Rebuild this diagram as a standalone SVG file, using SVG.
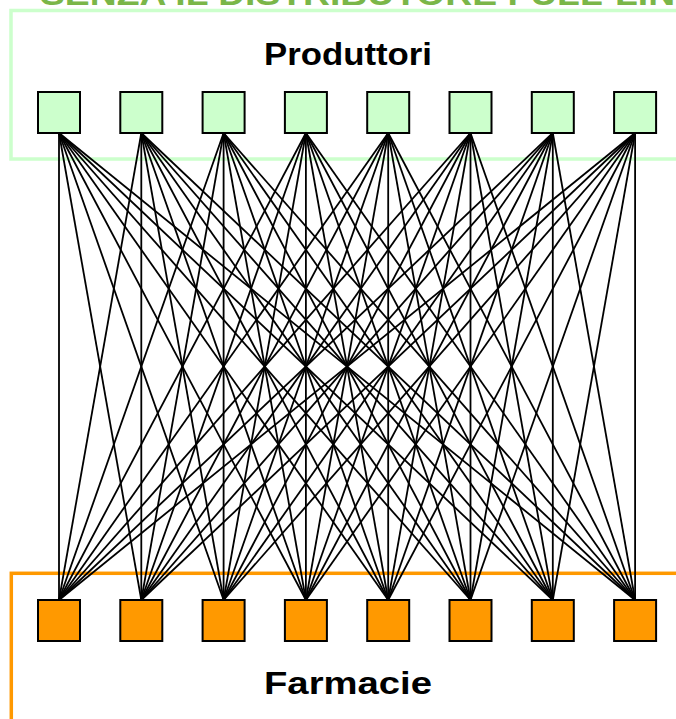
<svg xmlns="http://www.w3.org/2000/svg" width="676" height="719" viewBox="0 0 676 719">
<style>
.frame{fill:none;stroke-width:3.5}
.lbl{font-family:"Liberation Sans",Arial,sans-serif;font-weight:bold;font-size:32px;fill:#000;text-anchor:middle}
.title{font-family:"Liberation Sans",Arial,sans-serif;font-weight:bold;font-size:31px;fill:#7ab648}
.prod{fill:#ccffcc;stroke:#000;stroke-width:2}
.farm{fill:#ff9900;stroke:#000;stroke-width:2}
#links line{stroke:#000;stroke-width:1.8}
</style>
<text class="title" x="40" y="5" textLength="660" lengthAdjust="spacingAndGlyphs">SENZA IL DISTRIBUTORE FULL-LINE</text>
<rect class="frame" x="11" y="10.5" width="700" height="148.5" stroke="#ccffcc"/>
<rect class="frame" x="11.3" y="573.3" width="700" height="200" stroke="#ff9900"/>
<text class="lbl" x="348" y="65" textLength="168" lengthAdjust="spacingAndGlyphs">Produttori</text>
<text class="lbl" x="348" y="694" textLength="168" lengthAdjust="spacingAndGlyphs">Farmacie</text>
<g id="links">
<line x1="59" y1="133" x2="59" y2="600"/><line x1="59" y1="133" x2="141.3" y2="600"/><line x1="59" y1="133" x2="223.6" y2="600"/><line x1="59" y1="133" x2="305.9" y2="600"/><line x1="59" y1="133" x2="388.2" y2="600"/><line x1="59" y1="133" x2="470.5" y2="600"/><line x1="59" y1="133" x2="552.8" y2="600"/><line x1="59" y1="133" x2="635.1" y2="600"/>
<line x1="141.3" y1="133" x2="59" y2="600"/><line x1="141.3" y1="133" x2="141.3" y2="600"/><line x1="141.3" y1="133" x2="223.6" y2="600"/><line x1="141.3" y1="133" x2="305.9" y2="600"/><line x1="141.3" y1="133" x2="388.2" y2="600"/><line x1="141.3" y1="133" x2="470.5" y2="600"/><line x1="141.3" y1="133" x2="552.8" y2="600"/><line x1="141.3" y1="133" x2="635.1" y2="600"/>
<line x1="223.6" y1="133" x2="59" y2="600"/><line x1="223.6" y1="133" x2="141.3" y2="600"/><line x1="223.6" y1="133" x2="223.6" y2="600"/><line x1="223.6" y1="133" x2="305.9" y2="600"/><line x1="223.6" y1="133" x2="388.2" y2="600"/><line x1="223.6" y1="133" x2="470.5" y2="600"/><line x1="223.6" y1="133" x2="552.8" y2="600"/><line x1="223.6" y1="133" x2="635.1" y2="600"/>
<line x1="305.9" y1="133" x2="59" y2="600"/><line x1="305.9" y1="133" x2="141.3" y2="600"/><line x1="305.9" y1="133" x2="223.6" y2="600"/><line x1="305.9" y1="133" x2="305.9" y2="600"/><line x1="305.9" y1="133" x2="388.2" y2="600"/><line x1="305.9" y1="133" x2="470.5" y2="600"/><line x1="305.9" y1="133" x2="552.8" y2="600"/><line x1="305.9" y1="133" x2="635.1" y2="600"/>
<line x1="388.2" y1="133" x2="59" y2="600"/><line x1="388.2" y1="133" x2="141.3" y2="600"/><line x1="388.2" y1="133" x2="223.6" y2="600"/><line x1="388.2" y1="133" x2="305.9" y2="600"/><line x1="388.2" y1="133" x2="388.2" y2="600"/><line x1="388.2" y1="133" x2="470.5" y2="600"/><line x1="388.2" y1="133" x2="552.8" y2="600"/><line x1="388.2" y1="133" x2="635.1" y2="600"/>
<line x1="470.5" y1="133" x2="59" y2="600"/><line x1="470.5" y1="133" x2="141.3" y2="600"/><line x1="470.5" y1="133" x2="223.6" y2="600"/><line x1="470.5" y1="133" x2="305.9" y2="600"/><line x1="470.5" y1="133" x2="388.2" y2="600"/><line x1="470.5" y1="133" x2="470.5" y2="600"/><line x1="470.5" y1="133" x2="552.8" y2="600"/><line x1="470.5" y1="133" x2="635.1" y2="600"/>
<line x1="552.8" y1="133" x2="59" y2="600"/><line x1="552.8" y1="133" x2="141.3" y2="600"/><line x1="552.8" y1="133" x2="223.6" y2="600"/><line x1="552.8" y1="133" x2="305.9" y2="600"/><line x1="552.8" y1="133" x2="388.2" y2="600"/><line x1="552.8" y1="133" x2="470.5" y2="600"/><line x1="552.8" y1="133" x2="552.8" y2="600"/><line x1="552.8" y1="133" x2="635.1" y2="600"/>
<line x1="635.1" y1="133" x2="59" y2="600"/><line x1="635.1" y1="133" x2="141.3" y2="600"/><line x1="635.1" y1="133" x2="223.6" y2="600"/><line x1="635.1" y1="133" x2="305.9" y2="600"/><line x1="635.1" y1="133" x2="388.2" y2="600"/><line x1="635.1" y1="133" x2="470.5" y2="600"/><line x1="635.1" y1="133" x2="552.8" y2="600"/><line x1="635.1" y1="133" x2="635.1" y2="600"/>
</g>
<g id="p1"><rect class="prod" x="38" y="92" width="42" height="41"/></g>
<g id="p2"><rect class="prod" x="120.3" y="92" width="42" height="41"/></g>
<g id="p3"><rect class="prod" x="202.6" y="92" width="42" height="41"/></g>
<g id="p4"><rect class="prod" x="284.9" y="92" width="42" height="41"/></g>
<g id="p5"><rect class="prod" x="367.2" y="92" width="42" height="41"/></g>
<g id="p6"><rect class="prod" x="449.5" y="92" width="42" height="41"/></g>
<g id="p7"><rect class="prod" x="531.8" y="92" width="42" height="41"/></g>
<g id="p8"><rect class="prod" x="614.1" y="92" width="42" height="41"/></g>
<g id="f1"><rect class="farm" x="38" y="600" width="42" height="41"/></g>
<g id="f2"><rect class="farm" x="120.3" y="600" width="42" height="41"/></g>
<g id="f3"><rect class="farm" x="202.6" y="600" width="42" height="41"/></g>
<g id="f4"><rect class="farm" x="284.9" y="600" width="42" height="41"/></g>
<g id="f5"><rect class="farm" x="367.2" y="600" width="42" height="41"/></g>
<g id="f6"><rect class="farm" x="449.5" y="600" width="42" height="41"/></g>
<g id="f7"><rect class="farm" x="531.8" y="600" width="42" height="41"/></g>
<g id="f8"><rect class="farm" x="614.1" y="600" width="42" height="41"/></g>
</svg>
